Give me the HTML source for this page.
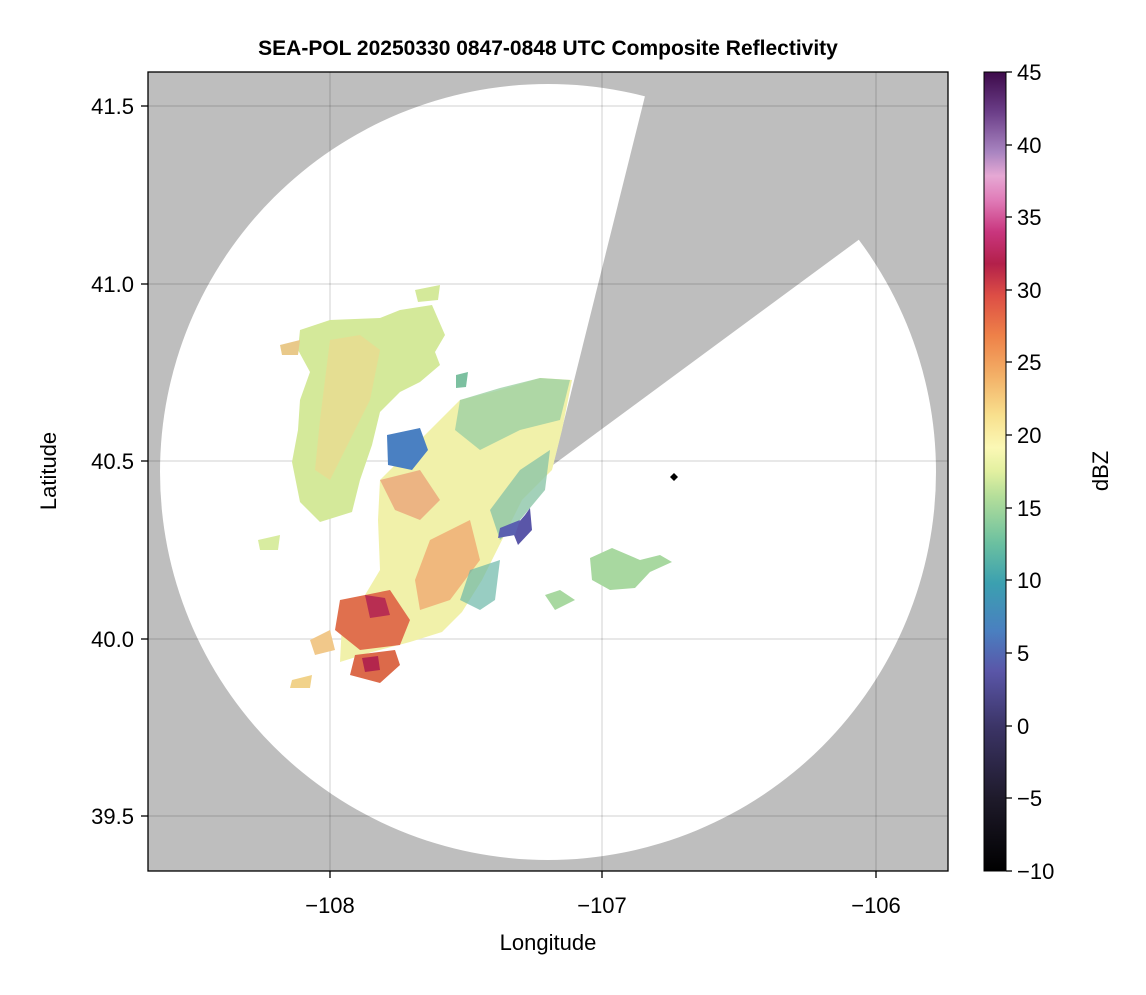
<!DOCTYPE html>
<html><head><style>
body{margin:0;background:#fff;width:1146px;height:990px;overflow:hidden;font-family:"Liberation Sans",sans-serif}
</style></head><body>
<svg width="1146" height="990" xmlns="http://www.w3.org/2000/svg" font-family="Liberation Sans, sans-serif">
<defs>
<linearGradient id="cb" x1="0" y1="1" x2="0" y2="0">
<stop offset="0" stop-color="#000000"/>
<stop offset="0.09" stop-color="#1e1a2a"/>
<stop offset="0.18" stop-color="#3b3466"/>
<stop offset="0.25" stop-color="#5a56a8"/>
<stop offset="0.3" stop-color="#4a7fc0"/>
<stop offset="0.36" stop-color="#3ba0b0"/>
<stop offset="0.41" stop-color="#6bc0a0"/>
<stop offset="0.47" stop-color="#b6df9a"/>
<stop offset="0.5" stop-color="#e2f0a0"/>
<stop offset="0.53" stop-color="#fbf8b5"/>
<stop offset="0.57" stop-color="#f8e08e"/>
<stop offset="0.62" stop-color="#f3b067"/>
<stop offset="0.67" stop-color="#ee8148"/>
<stop offset="0.72" stop-color="#dd4e45"/>
<stop offset="0.76" stop-color="#b3204a"/>
<stop offset="0.8" stop-color="#c9367e"/>
<stop offset="0.84" stop-color="#e07cb8"/>
<stop offset="0.87" stop-color="#e6a8d4"/>
<stop offset="0.9" stop-color="#a884c0"/>
<stop offset="0.95" stop-color="#6b3e88"/>
<stop offset="1" stop-color="#3d0a4a"/>
</linearGradient>
<clipPath id="pc"><rect x="148" y="72" width="800" height="799"/></clipPath>
</defs>
<g clip-path="url(#pc)">
<rect x="148" y="72" width="800" height="799" fill="#bebebe"/>
<circle cx="548" cy="472" r="388" fill="#fff"/>
<polygon points="553,465 651,72 948,72 948,174" fill="#bebebe"/>
<g stroke="#000" stroke-opacity="0.12" stroke-width="1.5">
<line x1="330" y1="72" x2="330" y2="871"/><line x1="602" y1="72" x2="602" y2="871"/><line x1="876" y1="72" x2="876" y2="871"/>
<line x1="148" y1="106" x2="948" y2="106"/><line x1="148" y1="284" x2="948" y2="284"/><line x1="148" y1="461" x2="948" y2="461"/><line x1="148" y1="639" x2="948" y2="639"/><line x1="148" y1="816" x2="948" y2="816"/>
</g>
<!-- echoes -->
<polygon points="300,330 330,320 380,318 400,310 432,305 445,335 435,352 440,365 420,382 400,392 380,412 372,445 360,480 352,512 320,522 300,502 292,462 298,430 300,400 310,372 298,350" fill="#d4e99a"/>
<polygon points="330,340 360,335 380,350 370,400 350,440 330,480 315,470 320,420" fill="#ecd98e" opacity="0.7"/>
<polygon points="380,480 420,440 460,400 500,390 540,378 572,380 562,430 552,470 522,500 502,540 482,580 462,612 442,632 410,642 372,652 340,662 342,622 362,600 380,570 378,520" fill="#f1f1aa"/>
<polygon points="460,400 500,388 540,378 570,380 560,420 520,430 480,450 455,430" fill="#9dd1a4" opacity="0.8"/>
<polygon points="520,470 550,450 545,490 520,520 500,540 490,510" fill="#8cc6a8" opacity="0.8"/>
<polygon points="380,480 420,470 440,500 420,520 395,510" fill="#e99a72" opacity="0.7"/>
<polygon points="430,540 470,520 480,560 450,600 420,610 415,580" fill="#f0a06a" opacity="0.7"/>
<polygon points="340,600 390,590 410,620 400,645 360,650 335,630" fill="#e0704e"/>
<polygon points="365,595 385,598 390,615 370,618" fill="#b82e52"/>
<polygon points="355,655 395,650 400,665 380,683 350,675" fill="#dc6a4a"/>
<polygon points="362,658 378,656 380,670 365,672" fill="#b3264c"/>
<polygon points="292,680 312,675 310,688 290,688" fill="#f1d28a"/>
<polygon points="387,435 420,428 428,450 412,470 388,465" fill="#4a80c2"/>
<polygon points="525,515 530,508 532,530 518,545 512,530" fill="#5a56a8"/>
<polygon points="500,528 520,520 515,535 498,538" fill="#5a60b0"/>
<polygon points="590,558 612,548 640,560 660,555 672,562 650,572 635,588 610,590 592,580" fill="#a8d8a0"/>
<polygon points="470,570 500,560 495,600 480,610 460,600" fill="#6cb8a8" opacity="0.7"/>
<polygon points="545,595 560,590 575,600 555,610" fill="#a8d8a0"/>
<polygon points="415,290 440,285 438,300 418,302" fill="#d4e99a"/>
<polygon points="280,345 300,340 298,355 282,355" fill="#e9c98a"/>
<polygon points="258,540 280,535 278,550 260,550" fill="#d8eca0"/>
<polygon points="310,640 330,630 335,650 315,655" fill="#f1c88a"/>
<polygon points="456,375 468,372 466,387 456,388" fill="#7cc0a0"/>
</g>
<polygon points="670,477 674,473 678,477 674,481" fill="#000"/>
<rect x="148" y="72" width="800" height="799" fill="none" stroke="#000" stroke-width="1.3"/>
<g stroke="#000" stroke-width="1.3">
<line x1="330" y1="871" x2="330" y2="878"/><line x1="602" y1="871" x2="602" y2="878"/><line x1="876" y1="871" x2="876" y2="878"/>
<line x1="141" y1="106" x2="148" y2="106"/><line x1="141" y1="284" x2="148" y2="284"/><line x1="141" y1="461" x2="148" y2="461"/><line x1="141" y1="639" x2="148" y2="639"/><line x1="141" y1="816" x2="148" y2="816"/>
</g>
<g font-size="22" fill="#000">
<text x="330" y="913" text-anchor="middle">−108</text>
<text x="602" y="913" text-anchor="middle">−107</text>
<text x="876" y="913" text-anchor="middle">−106</text>
<text x="134" y="114" text-anchor="end">41.5</text>
<text x="134" y="292" text-anchor="end">41.0</text>
<text x="134" y="469" text-anchor="end">40.5</text>
<text x="134" y="647" text-anchor="end">40.0</text>
<text x="134" y="824" text-anchor="end">39.5</text>
<text x="548" y="950" text-anchor="middle">Longitude</text>
<text transform="translate(56,471) rotate(-90)" text-anchor="middle">Latitude</text>
<text transform="translate(1108,471) rotate(-90)" text-anchor="middle">dBZ</text>
</g>
<text x="548" y="55" text-anchor="middle" font-size="21" font-weight="bold">SEA-POL 20250330 0847-0848 UTC Composite Reflectivity</text>
<rect x="984" y="72" width="22" height="799" fill="url(#cb)"/>
<rect x="984" y="72" width="22" height="799" fill="none" stroke="#000" stroke-width="1"/>
<g font-size="22" fill="#000" stroke="#000" stroke-width="1.3">
<line x1="1006" y1="871" x2="1012" y2="871"/><line x1="1006" y1="798" x2="1012" y2="798"/><line x1="1006" y1="726" x2="1012" y2="726"/><line x1="1006" y1="653" x2="1012" y2="653"/><line x1="1006" y1="580" x2="1012" y2="580"/><line x1="1006" y1="508" x2="1012" y2="508"/><line x1="1006" y1="435" x2="1012" y2="435"/><line x1="1006" y1="362" x2="1012" y2="362"/><line x1="1006" y1="290" x2="1012" y2="290"/><line x1="1006" y1="217" x2="1012" y2="217"/><line x1="1006" y1="145" x2="1012" y2="145"/><line x1="1006" y1="72" x2="1012" y2="72"/>
</g>
<g font-size="22" fill="#000">
<text x="1017" y="879">−10</text><text x="1017" y="806">−5</text><text x="1017" y="734">0</text><text x="1017" y="661">5</text><text x="1017" y="588">10</text><text x="1017" y="516">15</text><text x="1017" y="443">20</text><text x="1017" y="370">25</text><text x="1017" y="298">30</text><text x="1017" y="225">35</text><text x="1017" y="153">40</text><text x="1017" y="80">45</text>
</g>
</svg>
</body></html>
